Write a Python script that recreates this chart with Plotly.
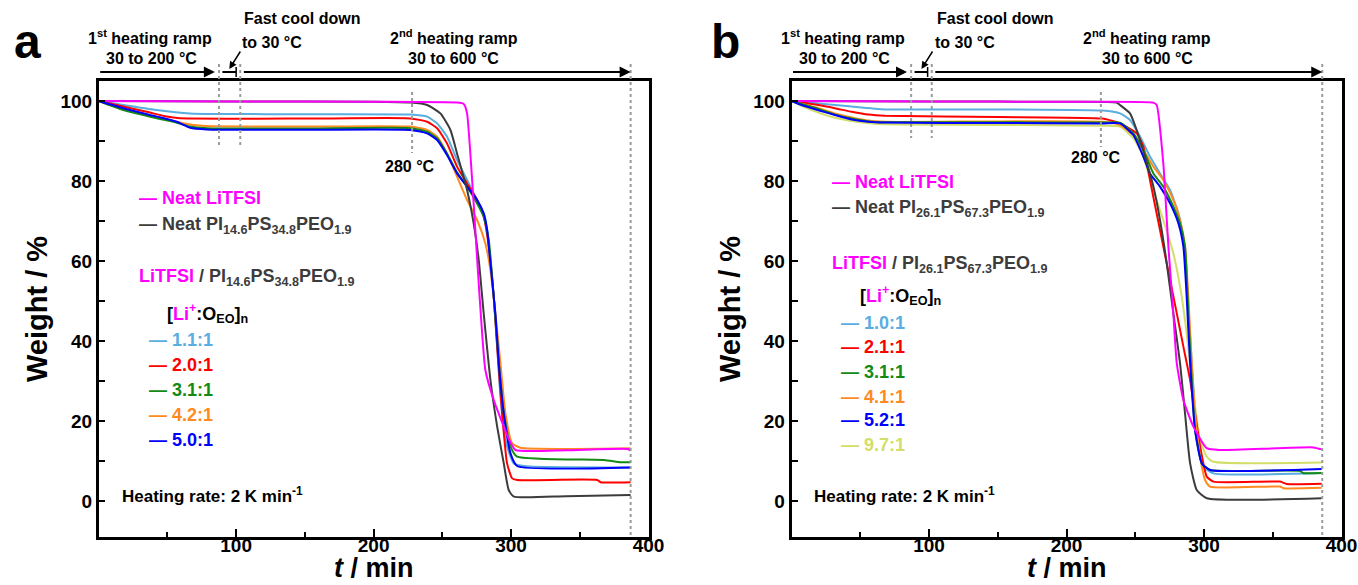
import plotly.graph_objects as go

# ---------------- data (time in min, weight in %) ----------------
# Panel a : LiTFSI / PI14.6PS34.8PEO1.9
A_T_LITFSI = [0, 100, 200, 260.7, 265.6, 268.0, 281.3, 287.4, 294.7, 299.0, 303.2, 340, 385, 387]
A_W_LITFSI = [100, 99.9, 99.8, 99.6, 99.25, 96.9, 32.75, 25.25, 18.6, 15.0, 12.75, 12.7, 13.0, 12.6]
A_T_NEAT = [0, 100, 200, 226.7, 238.9, 248.6, 255.9, 260.7, 268.0, 272.8, 276.5, 280.1, 285.0, 289.9, 294.7, 298.3, 302.0, 340, 387]
A_W_NEAT = [100, 99.9, 99.8, 99.6, 99.0, 96.9, 92.75, 86.9, 77.75, 69.4, 60.25, 46.9, 30.25, 18.6, 9.4, 2.75, 1.1, 1.2, 1.5]
A_T_11 = [0, 17.9, 42.2, 66.5, 90.5, 150, 226.7, 238.9, 246.2, 253.4, 260.7, 268.0, 275.3, 280.1, 282.6, 285.0, 287.4, 289.9, 292.3, 295.9, 302.0, 314.1, 387]
A_W_11 = [100, 99.0, 97.75, 96.9, 96.75, 96.7, 96.6, 96.1, 94.4, 91.1, 85.25, 80.25, 75.25, 71.9, 67.75, 59.4, 51.1, 38.6, 26.1, 15.25, 9.4, 8.6, 8.4]
A_T_20 = [0, 17.9, 35.0, 49.5, 59.2, 150, 226.7, 238.9, 246.2, 253.4, 260.7, 268.0, 275.3, 280.1, 283.8, 287.4, 289.9, 293.5, 297.1, 300.8, 304.4, 362.7, 365.1, 387]
A_W_20 = [100, 98.6, 97.3, 96.1, 95.7, 95.6, 95.65, 94.8, 93.2, 89.4, 83.6, 79.4, 75.25, 71.1, 63.6, 51.1, 38.6, 21.9, 9.4, 5.65, 5.25, 5.25, 4.7, 4.7]
A_T_31 = [0, 17.9, 42.2, 54.3, 66.5, 78.7, 150, 226.7, 238.9, 246.2, 253.4, 260.7, 268.0, 275.3, 280.1, 283.8, 287.4, 291.1, 294.7, 299.6, 304.4, 367.6, 379.7, 387]
A_W_31 = [100, 97.75, 95.7, 94.8, 93.6, 93.2, 93.1, 93.2, 92.3, 90.7, 86.9, 82.2, 78.6, 74.4, 71.1, 65.25, 51.1, 34.4, 21.9, 13.6, 11.1, 10.25, 9.7, 9.7]
A_T_42 = [0, 17.9, 42.2, 56.8, 66.5, 78.7, 150, 226.7, 238.9, 246.2, 253.4, 260.7, 268.0, 275.3, 281.3, 285.0, 288.6, 292.3, 295.9, 300.8, 306.9, 387]
A_W_42 = [100, 97.9, 95.9, 94.8, 94.1, 93.75, 93.6, 93.6, 92.75, 91.1, 86.9, 81.1, 75.25, 70.25, 64.4, 57.75, 46.9, 34.4, 21.9, 14.4, 13.3, 13.2]
A_T_50 = [0, 17.9, 42.2, 56.8, 66.5, 78.7, 150, 226.7, 238.9, 246.2, 253.4, 260.7, 268.0, 275.3, 280.1, 282.6, 285.0, 288.6, 291.1, 294.7, 299.6, 304.4, 387]
A_W_50 = [100, 98.2, 96.1, 94.8, 93.3, 92.9, 92.8, 92.75, 91.9, 90.25, 86.5, 81.9, 78.6, 75.25, 71.9, 67.75, 59.4, 46.9, 34.4, 21.9, 11.9, 8.75, 8.4]

# Panel b : LiTFSI / PI26.1PS67.3PEO1.9
B_T_LITFSI = [0, 100, 200, 263.2, 265.6, 270.4, 274.1, 277.7, 280.2, 285.0, 292.3, 302.0, 311.7, 379.6, 385.6]
B_W_LITFSI = [100, 99.9, 99.8, 99.6, 99.0, 84.4, 63.6, 46.9, 34.4, 25.25, 18.6, 13.2, 12.75, 13.4, 12.9]
B_T_NEAT = [0, 100, 200, 236.5, 238.9, 246.2, 251.0, 257.1, 263.2, 268.0, 272.9, 277.7, 282.6, 286.2, 289.9, 294.7, 302.0, 385.6]
B_W_NEAT = [100, 99.9, 99.8, 99.6, 99.0, 96.9, 92.75, 86.1, 78.6, 70.25, 59.4, 46.9, 34.4, 21.9, 9.4, 2.75, 0.7, 0.7]
B_T_10 = [0, 19.5, 43.8, 68.0, 150, 226, 238.9, 246.2, 253.5, 260.7, 268.0, 275.3, 281.4, 285.0, 287.4, 291.1, 294.7, 299.6, 306.8, 385.6]
B_W_10 = [100, 99.4, 98.6, 97.9, 97.9, 97.6, 96.9, 95.25, 91.1, 86.1, 81.9, 77.75, 71.9, 65.25, 55.25, 34.4, 17.75, 8.6, 6.9, 7.0]
B_T_21 = [0, 19.5, 31.6, 43.8, 55.9, 68.0, 150, 226, 238.9, 251.0, 255.9, 260.7, 268.0, 275.3, 280.2, 285.0, 289.9, 293.5, 297.2, 302.0, 306.8, 355.3, 360.2, 385.6]
B_W_21 = [100, 99.0, 98.2, 97.3, 96.6, 96.3, 96.0, 95.6, 94.4, 91.9, 88.6, 80.25, 67.75, 55.25, 46.9, 38.6, 30.25, 21.9, 13.6, 6.1, 4.85, 4.85, 4.25, 4.3]
B_T_31 = [0, 19.5, 31.6, 43.8, 55.9, 68.0, 150, 226, 238.9, 248.6, 255.9, 263.2, 270.4, 277.7, 282.6, 286.2, 288.6, 291.1, 293.5, 298.4, 304.4, 369.9, 372.0, 385.6]
B_W_31 = [100, 98.0, 96.6, 95.6, 94.9, 94.7, 94.7, 94.6, 94.6, 91.9, 87.75, 81.9, 78.6, 73.6, 69.4, 63.6, 46.9, 30.25, 17.75, 9.4, 7.75, 7.5, 7.0, 7.0]
B_T_41 = [0, 19.5, 31.6, 43.8, 55.9, 68.0, 150, 226, 238.9, 248.6, 255.9, 263.2, 270.4, 277.7, 282.6, 286.2, 288.6, 291.1, 293.5, 297.2, 300.8, 304.4, 355.3, 357.8, 385.6]
B_W_41 = [100, 98.2, 96.9, 95.9, 95.1, 94.8, 94.9, 94.8, 94.0, 91.5, 87.75, 83.6, 80.25, 75.25, 70.25, 63.6, 51.1, 34.4, 21.9, 11.1, 5.25, 3.6, 3.6, 3.2, 3.3]
B_T_52 = [0, 7.4, 19.5, 31.6, 43.8, 55.9, 68.0, 150, 226, 238.9, 248.6, 255.9, 260.7, 268.0, 275.3, 281.4, 285.0, 287.4, 289.9, 293.5, 298.4, 304.4, 385.6]
B_W_52 = [100, 99.0, 97.7, 96.5, 95.4, 94.8, 94.6, 94.5, 94.4, 94.4, 91.5, 86.1, 81.9, 78.6, 74.4, 69.4, 63.6, 51.1, 34.4, 17.75, 9.4, 7.75, 8.0]
B_T_97 = [0, 7.4, 19.5, 31.6, 43.8, 60.7, 80.1, 150, 226, 238.9, 248.6, 255.9, 263.2, 270.4, 277.7, 282.6, 286.2, 289.9, 293.5, 297.2, 302.0, 306.8, 385.6]
B_W_97 = [100, 98.8, 97.1, 95.8, 95.0, 94.3, 94.1, 94.0, 93.8, 93.6, 90.7, 86.1, 77.75, 70.25, 61.9, 53.6, 45.25, 34.4, 23.6, 15.25, 11.1, 9.8, 9.6]

# event times (dotted guide lines): end of 1st ramp, start of 2nd ramp, 280 degC, end
A_EVENTS = [87.5, 103, 228, 387]
B_EVENTS = [87, 102, 225, 386]

A_RATIOS = ["1.1:1", "2.0:1", "3.1:1", "4.2:1", "5.0:1"]
B_RATIOS = ["1.0:1", "2.1:1", "3.1:1", "4.1:1", "5.2:1", "9.7:1"]

X_TICKS = [100, 200, 300, 400]
Y_TICKS = [0, 20, 40, 60, 80, 100]

# ---------------- styles ----------------
W, H = 1358, 585
FONT = "Liberation Sans, Arial, sans-serif"
MAG = "#FF00FF"
GRAY = "#3C3C3C"
LBLUE = "#5AADE0"
RED = "#FF0000"
GREEN = "#138A13"
ORANGE = "#FF8A1F"
BLUE = "#0000FF"
YGREEN = "#D2DE68"
DOT = "#9A9A9A"


def px(x):
    return x / W


def py(y):
    return 1 - y / H


fig = go.Figure()

series_a = [
    (A_T_11, A_W_11, LBLUE), (A_T_20, A_W_20, RED), (A_T_42, A_W_42, ORANGE),
    (A_T_31, A_W_31, GREEN), (A_T_50, A_W_50, BLUE), (A_T_NEAT, A_W_NEAT, GRAY),
    (A_T_LITFSI, A_W_LITFSI, MAG),
]
series_b = [
    (B_T_10, B_W_10, LBLUE), (B_T_97, B_W_97, YGREEN), (B_T_21, B_W_21, RED),
    (B_T_41, B_W_41, ORANGE), (B_T_31, B_W_31, GREEN), (B_T_52, B_W_52, BLUE),
    (B_T_NEAT, B_W_NEAT, GRAY), (B_T_LITFSI, B_W_LITFSI, MAG),
]
for t, w, c in series_a:
    fig.add_trace(go.Scatter(x=t, y=w, mode="lines", xaxis="x", yaxis="y",
                             line=dict(color=c, width=2, shape="spline", smoothing=0.5),
                             showlegend=False, hoverinfo="skip"))
for t, w, c in series_b:
    fig.add_trace(go.Scatter(x=t, y=w, mode="lines", xaxis="x2", yaxis="y2",
                             line=dict(color=c, width=2, shape="spline", smoothing=0.5),
                             showlegend=False, hoverinfo="skip"))

tickfont = dict(family=FONT, size=19, color="black", weight="bold")
common = dict(showline=True, linewidth=2.5, linecolor="black", mirror=True,
              showgrid=False, zeroline=False, ticks="inside", tickwidth=2,
              tickcolor="black", tickfont=tickfont, automargin=False)
xcommon = dict(common, range=[0, 400], tickmode="array", tickvals=X_TICKS, ticklen=8,
               ticklabelstandoff=-11,
               minor=dict(ticks="inside", tickmode="linear", tick0=0, dtick=50,
                          ticklen=5, tickwidth=2, tickcolor="black"))
ycommon = dict(common, range=[-9, 105], tickmode="array", tickvals=Y_TICKS, ticklen=7,
               minor=dict(ticks="inside", tickmode="linear", tick0=0, dtick=10,
                          ticklen=7, tickwidth=2, tickcolor="black"),
               title=dict(text="Weight / %", standoff=5,
                          font=dict(family=FONT, size=29, color="black", weight="bold")))

ydom = [py(537), py(81)]
fig.update_layout(
    template="none",
    width=W, height=H, autosize=False,
    margin=dict(l=0, r=0, t=0, b=0),
    paper_bgcolor="white", plot_bgcolor="white",
    showlegend=False,
    xaxis=dict(xcommon, domain=[px(98.7), px(648.5)], anchor="y"),
    yaxis=dict(ycommon, domain=ydom, anchor="x"),
    xaxis2=dict(xcommon, domain=[px(791.5), px(1341.5)], anchor="y2"),
    yaxis2=dict(ycommon, domain=ydom, anchor="x2"),
)

shapes = []
anns = []


def txt(text, x, y, size=16, color="black", xanchor="center", bold=True):
    anns.append(dict(text=text, x=px(x), y=py(y), xref="paper", yref="paper",
                     xanchor=xanchor, yanchor="middle", showarrow=False,
                     font=dict(family=FONT, size=size, color=color,
                               weight="bold" if bold else "normal")))


def vdot(xref, t, y0, y1):
    shapes.append(dict(type="line", xref=xref, yref="paper", x0=t, x1=t,
                       y0=py(y0), y1=py(y1), line=dict(color=DOT, width=2, dash="dot")))


for k, (xr, ev, dx, y280, ylow, lab_y) in enumerate([
        ("x", A_EVENTS, 0, 153, 145, 166), ("x2", B_EVENTS, 693, 147, 138, 158)]):
    # dotted guide lines
    vdot(xr, ev[0], 64, ylow)
    vdot(xr, ev[1], 64, ylow)
    vdot(xr, ev[2], 92, y280)
    vdot(xr, ev[3], 64, 537)
    # arrows along the top (heating ramps)
    ya = py(72)
    anns.append(dict(text="", xref=xr, yref="paper", x=ev[0] - 3, y=ya,
                     axref=xr, ayref="pixel", ax=0, ay=0, showarrow=True,
                     arrowhead=2, arrowsize=1.1, arrowwidth=2, arrowcolor="black"))
    anns.append(dict(text="", xref=xr, yref="paper", x=ev[3], y=ya,
                     axref=xr, ayref="pixel", ax=ev[1] + 1.5, ay=0, showarrow=True,
                     arrowhead=2, arrowsize=1.1, arrowwidth=2, arrowcolor="black"))
    # fast cool-down marker
    shapes.append(dict(type="line", xref=xr, yref="paper", x0=ev[0] + 2.5, x1=ev[1] - 3,
                       y0=ya, y1=ya, line=dict(color="black", width=2)))
    shapes.append(dict(type="line", xref=xr, yref="paper", x0=ev[1] - 3, x1=ev[1] - 3,
                       y0=py(67), y1=py(77), line=dict(color="black", width=1.5)))
    anns.append(dict(text="", xref=xr, yref="paper", x=ev[0] + 7.5, y=py(69),
                     axref="pixel", ayref="pixel", ax=12, ay=-19, showarrow=True,
                     arrowhead=2, arrowsize=1, arrowwidth=1.5, arrowcolor="black"))
    # texts above the panel
    txt("1<sup>st</sup> heating ramp", 150 + dx, 37)
    txt("30 to 200 °C", 151 + dx, 59)
    txt("Fast cool down", 302 + dx, 18)
    txt("to 30 °C", 272 + dx, 43)
    txt("2<sup>nd</sup> heating ramp", 454 + dx, 37)
    txt("30 to 600 °C", 454 + dx, 59)
    txt("280 °C", 410 + dx - (7 if k else 0), lab_y)
    txt("Heating rate: 2 K min<sup>-1</sup>", 120 + dx - (1 if k else 0), 495, size=17, xanchor="left")
    # x-axis title
    txt("<i>t</i> / min", 373.6 + dx, 567.5, size=27)

# panel letters
txt("a", 27, 42, size=48)
txt("b", 725, 42, size=48)

# legend (panel a)
txt("— Neat LiTFSI", 137, 198, size=18, color=MAG, xanchor="left")
txt("— Neat PI<sub>14.6</sub>PS<sub>34.8</sub>PEO<sub>1.9</sub>", 137, 226, size=18, color=GRAY, xanchor="left")
txt(f"<span style='color:{MAG}'>LiTFSI</span> / PI<sub>14.6</sub>PS<sub>34.8</sub>PEO<sub>1.9</sub>",
    137, 277, size=18, color=GRAY, xanchor="left")
txt(f"[<span style='color:{MAG}'>Li<sup>+</sup></span>:O<sub>EO</sub>]<sub>n</sub>", 165, 313,
    size=18, color="black", xanchor="left")
for lab, c, y in zip(A_RATIOS, [LBLUE, RED, GREEN, ORANGE, BLUE], [340, 365, 390, 415, 440]):
    txt("— " + lab, 147, y, size=18, color=c, xanchor="left")

# legend (panel b)
txt("— Neat LiTFSI", 830, 182, size=18, color=MAG, xanchor="left")
txt("— Neat PI<sub>26.1</sub>PS<sub>67.3</sub>PEO<sub>1.9</sub>", 830, 208, size=18, color=GRAY, xanchor="left")
txt(f"<span style='color:{MAG}'>LiTFSI</span> / PI<sub>26.1</sub>PS<sub>67.3</sub>PEO<sub>1.9</sub>",
    830, 265, size=18, color=GRAY, xanchor="left")
txt(f"[<span style='color:{MAG}'>Li<sup>+</sup></span>:O<sub>EO</sub>]<sub>n</sub>", 858, 295,
    size=18, color="black", xanchor="left")
for lab, c, y in zip(B_RATIOS, [LBLUE, RED, GREEN, ORANGE, BLUE, YGREEN], [323, 347, 372, 397, 420, 445]):
    txt("— " + lab, 839, y, size=18, color=c, xanchor="left")

fig.update_layout(shapes=shapes, annotations=anns)
fig.write_html("out.html")
